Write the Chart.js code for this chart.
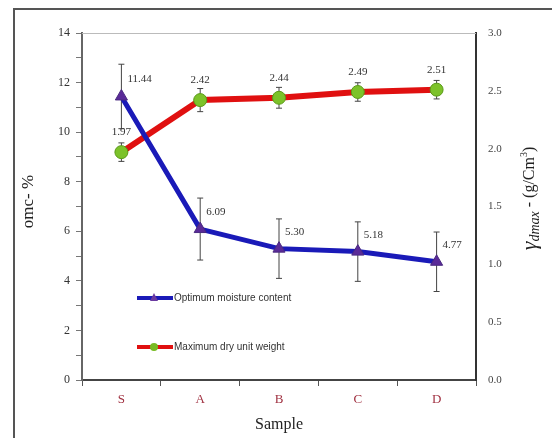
<!DOCTYPE html>
<html>
<head>
<meta charset="utf-8">
<script src="https://cdn.jsdelivr.net/npm/chart.js@4.4.1/dist/chart.umd.min.js"></script>
<style>
  html, body { margin: 0; padding: 0; background: #fff; }
  #wrap { position: relative; width: 552px; height: 438px; }
  #frame { position: absolute; left: 13px; top: 8px; right: 0; bottom: 0;
           border-top: 2px solid #555; border-left: 2px solid #555; }
  canvas { position: absolute; left: 0; top: 0; }
</style>
</head>
<body>
<div id="wrap">
  <div id="frame"></div>
  <canvas id="chart" width="552" height="438"></canvas>
</div>
<script>
// samples and measured values
const samples = ['S', 'A', 'B', 'C', 'D'];
const omc = [11.44, 6.09, 5.30, 5.18, 4.77];
const omcErr = [1.3, 1.25, 1.2, 1.2, 1.2];
const mdd = [1.97, 2.42, 2.44, 2.49, 2.51];
const mddErr = [0.08, 0.1, 0.09, 0.08, 0.08];

const serif = '"Liberation Serif", "DejaVu Serif", serif';

// error bars, value labels, legend, axis titles
const extras = {
  id: 'extras',
  beforeDatasetsDraw(chart) {
    const ctx = chart.ctx;
    const x = chart.scales.x;
    ctx.save();
    ctx.strokeStyle = '#444';
    ctx.lineWidth = 1;
    const bars = (vals, errs, sc) => {
      vals.forEach((v, i) => {
        const px = x.getPixelForValue(i);
        const top = sc.getPixelForValue(v + errs[i]);
        const bot = sc.getPixelForValue(v - errs[i]);
        ctx.beginPath();
        ctx.moveTo(px, top); ctx.lineTo(px, bot);
        ctx.moveTo(px - 3, top); ctx.lineTo(px + 3, top);
        ctx.moveTo(px - 3, bot); ctx.lineTo(px + 3, bot);
        ctx.stroke();
      });
    };
    bars(omc, omcErr, chart.scales.y);
    bars(mdd, mddErr, chart.scales.y1);
    ctx.restore();
  },
  afterDatasetsDraw(chart) {
    const ctx = chart.ctx;
    const x = chart.scales.x, y = chart.scales.y, y1 = chart.scales.y1;
    const area = chart.chartArea;
    ctx.save();
    ctx.font = '11px ' + serif;
    ctx.fillStyle = '#333';
    ctx.textBaseline = 'middle';
    ctx.textAlign = 'left';
    omc.forEach((v, i) => {
      ctx.fillText(v.toFixed(2), x.getPixelForValue(i) + 6, y.getPixelForValue(v) - 17);
    });
    ctx.textAlign = 'center';
    mdd.forEach((v, i) => {
      ctx.fillText(v.toFixed(2), x.getPixelForValue(i), y1.getPixelForValue(v) - 20);
    });

    // legend inside plot
    const items = [
      { text: 'Optimum moisture content', line: '#1a1ab8', fill: '#6a3aa0', style: 'triangle', dy: 298 },
      { text: 'Maximum dry unit weight', line: '#e01010', fill: '#77bb22', style: 'circle', dy: 347 }
    ];
    items.forEach(it => {
      const lx = area.left + 55;
      ctx.strokeStyle = it.line;
      ctx.lineWidth = 4;
      ctx.beginPath();
      ctx.moveTo(lx, it.dy); ctx.lineTo(lx + 36, it.dy);
      ctx.stroke();
      ctx.fillStyle = it.fill;
      ctx.beginPath();
      if (it.style === 'circle') ctx.arc(lx + 17, it.dy, 4, 0, Math.PI * 2);
      else { ctx.moveTo(lx + 17, it.dy - 5); ctx.lineTo(lx + 21, it.dy + 3); ctx.lineTo(lx + 13, it.dy + 3); }
      ctx.fill();
      ctx.fillStyle = '#333';
      ctx.font = '10px "Liberation Sans", Arial, sans-serif';
      ctx.textAlign = 'left';
      ctx.fillText(it.text, lx + 37, it.dy);
    });

    // top border of plot area
    ctx.strokeStyle = '#bbb';
    ctx.lineWidth = 1;
    ctx.beginPath();
    ctx.moveTo(area.left, area.top + 0.5); ctx.lineTo(area.right, area.top + 0.5);
    ctx.stroke();

    // axis titles
    ctx.fillStyle = '#222';
    ctx.textAlign = 'center';
    ctx.font = '16px ' + serif;
    ctx.fillText('Sample', (area.left + area.right) / 2, 425);

    const midY = (area.top + area.bottom) / 2;
    ctx.save();
    ctx.translate(29, midY - 5);
    ctx.rotate(-Math.PI / 2);
    ctx.font = '17px ' + serif;
    ctx.fillText('omc- %', 0, 0);
    ctx.restore();

    ctx.save();
    ctx.translate(530, midY - 8);
    ctx.rotate(-Math.PI / 2);
    const parts = [
      { t: 'γ', f: 'italic 22px ' + serif, dy: 0 },
      { t: 'dmax', f: 'italic 14px ' + serif, dy: 5 },
      { t: ' - (g/Cm', f: '16px ' + serif, dy: 0 },
      { t: '3', f: '10px ' + serif, dy: -6 },
      { t: ')', f: '16px ' + serif, dy: 0 }
    ];
    let total = 0;
    parts.forEach(p => { ctx.font = p.f; p.w = ctx.measureText(p.t).width; total += p.w; });
    let cx = -total / 2;
    ctx.textAlign = 'left';
    parts.forEach(p => { ctx.font = p.f; ctx.fillText(p.t, cx, p.dy); cx += p.w; });
    ctx.restore();
    ctx.restore();
  }
};

new Chart(document.getElementById('chart'), {
  type: 'line',
  data: {
    labels: samples,
    datasets: [
      {
        label: 'Optimum moisture content',
        data: omc,
        yAxisID: 'y',
        borderColor: '#1a1ab8',
        borderWidth: 5,
        pointStyle: 'triangle',
        pointRadius: 7,
        pointBackgroundColor: '#5a2a98',
        pointBorderColor: '#4a2a80',
        pointBorderWidth: 1,
        tension: 0
      },
      {
        label: 'Maximum dry unit weight',
        data: mdd,
        yAxisID: 'y1',
        borderColor: '#e01010',
        borderWidth: 6,
        pointStyle: 'circle',
        pointRadius: 6.5,
        pointBackgroundColor: '#7cc22a',
        pointBorderColor: '#5a9a18',
        pointBorderWidth: 1,
        tension: 0
      }
    ]
  },
  options: {
    responsive: false,
    animation: false,
    layout: { padding: { top: 33, left: 0, right: 0, bottom: 0 } },
    plugins: { legend: { display: false }, tooltip: { enabled: false } },
    scales: {
      x: {
        offset: true,
        grid: { offset: true, drawOnChartArea: false, tickLength: 6, color: '#555' },
        border: { color: '#444', width: 2 },
        ticks: { color: '#a03040', font: { family: serif, size: 13 }, padding: 6 },
        afterFit(s) { s.height = 58; }
      },
      y: {
        position: 'left',
        min: 0, max: 14,
        grid: { drawOnChartArea: false, tickLength: 6, color: '#777' },
        border: { color: '#666', width: 2 },
        ticks: {
          stepSize: 1,
          color: '#333',
          font: { family: serif, size: 12 },
          padding: 6,
          callback: v => (v % 2 === 0 ? v : '')
        },
        afterFit(s) { s.width = 82; }
      },
      y1: {
        position: 'right',
        min: 0, max: 3,
        grid: { drawOnChartArea: false, drawTicks: false },
        border: { color: '#333', width: 2 },
        ticks: {
          stepSize: 0.5,
          color: '#444',
          font: { family: serif, size: 11 },
          padding: 12,
          callback: v => v.toFixed(1)
        },
        afterFit(s) { s.width = 76; }
      }
    }
  },
  plugins: [extras]
});
</script>
</body>
</html>
